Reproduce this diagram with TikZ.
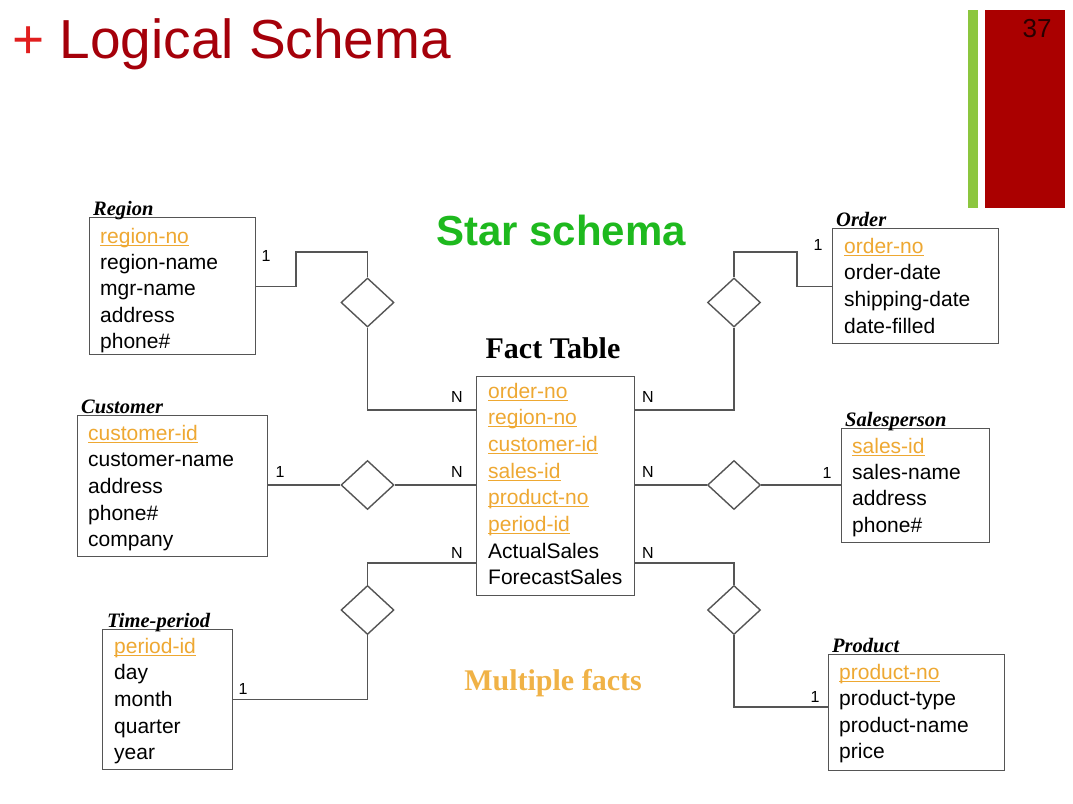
\documentclass[tikz,border=0pt]{standalone}
\usepackage{fontspec}
\setmainfont{Liberation Serif}
\setsansfont{Liberation Sans}
\usetikzlibrary{shapes.geometric}
\newcommand{\kul}[1]{\setbox0\hbox{#1}\rlap{\rule[-2.6pt]{\wd0}{1.0pt}}\box0}
\definecolor{keyc}{RGB}{238,168,50}
\definecolor{linec}{RGB}{85,85,85}
\definecolor{plusred}{RGB}{225,30,30}
\definecolor{titlered}{RGB}{165,0,10}
\definecolor{bargreen}{RGB}{140,198,63}
\definecolor{barred}{RGB}{170,0,0}
\definecolor{stargreen}{RGB}{30,185,30}
\definecolor{multic}{RGB}{240,178,70}
\begin{document}
\begin{tikzpicture}[x=1pt,y=-1pt,
  entbox/.style={draw=linec, line width=1.4pt, rectangle, inner sep=0pt, anchor=north west},
  attr/.style={anchor=base west, inner sep=0pt, font=\sffamily\fontsize{21}{25}\selectfont, text=black},
  keyattr/.style={attr, text=keyc},
  etitle/.style={anchor=base west, inner sep=0pt, font=\rmfamily\bfseries\itshape\fontsize{20.5}{24}\selectfont},
  rel/.style={diamond, draw=linec, line width=1.4pt, minimum width=53pt, minimum height=49pt, inner sep=0pt, fill=white},
  card/.style={font=\sffamily\fontsize{16}{18}\selectfont, inner sep=0pt},
  conn/.style={draw=linec, line width=1.4pt}]
\useasboundingbox (0,0) rectangle (1073,803);
\fill[white] (0,0) rectangle (1073,803);

% header
\node[anchor=base west, inner sep=0pt, font=\sffamily\fontsize{55}{60}\selectfont] (title) at (12,58)
  {\textcolor{plusred}{+} \textcolor{titlered}{Logical Schema}};
\fill[bargreen] (968,10) rectangle (978,208);
\fill[barred] (985,10) rectangle (1065,208);
\node[font=\sffamily\fontsize{26}{30}\selectfont, text={rgb,255:red,40;green,0;blue,0}, inner sep=0pt] (pagenum) at (1037,29) {37};

% headings
\node[font=\sffamily\bfseries\fontsize{42}{48}\selectfont, text=stargreen, inner sep=0pt] (star) at (561,230) {Star schema};
\node[font=\rmfamily\bfseries\fontsize{30}{34}\selectfont, inner sep=0pt] (facttitle) at (553,348) {Fact Table};
\node[font=\rmfamily\bfseries\fontsize{30}{34}\selectfont, text=multic, inner sep=0pt] (multi) at (553,683) {Multiple facts};

% Region
\node[entbox, minimum width=166pt, minimum height=137pt] (region) at (89,217) {};
\node[etitle] (regiont) at (93,215) {Region};
\node[keyattr] (r1) at (100,243) {\kul{region-no}};
\node[attr] (r2) at (100,269.4) {region-name};
\node[attr] (r3) at (100,295.8) {mgr-name};
\node[attr] (r4) at (100,322.2) {address};
\node[attr] (r5) at (100,348.6) {phone\#};

% Customer
\node[entbox, minimum width=190pt, minimum height=141pt] (cust) at (77,415) {};
\node[etitle] (custt) at (81,413) {Customer};
\node[keyattr] (c1) at (88,440) {\kul{customer-id}};
\node[attr] (c2) at (88,466.7) {customer-name};
\node[attr] (c3) at (88,493.4) {address};
\node[attr] (c4) at (88,520.1) {phone\#};
\node[attr] (c5) at (88,546.8) {company};

% Time-period
\node[entbox, minimum width=130pt, minimum height=140pt] (time) at (102,629) {};
\node[etitle] (timet) at (107,627) {Time-period};
\node[keyattr] (t1) at (114,653) {\kul{period-id}};
\node[attr] (t2) at (114,679.7) {day};
\node[attr] (t3) at (114,706.4) {month};
\node[attr] (t4) at (114,733.1) {quarter};
\node[attr] (t5) at (114,759.8) {year};

% Fact table
\node[entbox, minimum width=158pt, minimum height=219pt] (fact) at (476,376) {};
\node[keyattr] (f1) at (488,398) {\kul{order-no}};
\node[keyattr] (f2) at (488,424.7) {\kul{region-no}};
\node[keyattr] (f3) at (488,451.4) {\kul{customer-id}};
\node[keyattr] (f4) at (488,478.1) {\kul{sales-id}};
\node[keyattr] (f5) at (488,504.8) {\kul{product-no}};
\node[keyattr] (f6) at (488,531.5) {\kul{period-id}};
\node[attr] (f7) at (488,558.2) {ActualSales};
\node[attr] (f8) at (488,584.9) {ForecastSales};

% Order
\node[entbox, minimum width=166pt, minimum height=115pt] (order) at (832,228) {};
\node[etitle] (ordert) at (836,226) {Order};
\node[keyattr] (o1) at (844,253) {\kul{order-no}};
\node[attr] (o2) at (844,279.7) {order-date};
\node[attr] (o3) at (844,306.4) {shipping-date};
\node[attr] (o4) at (844,333.1) {date-filled};

% Salesperson
\node[entbox, minimum width=148pt, minimum height=114pt] (sales) at (841,428) {};
\node[etitle] (salest) at (845,426) {Salesperson};
\node[keyattr] (s1) at (852,453) {\kul{sales-id}};
\node[attr] (s2) at (852,479.4) {sales-name};
\node[attr] (s3) at (852,505.8) {address};
\node[attr] (s4) at (852,532.2) {phone\#};

% Product
\node[entbox, minimum width=176pt, minimum height=116pt] (prod) at (828,654) {};
\node[etitle] (prodt) at (832,652) {Product};
\node[keyattr] (p1) at (839,679) {\kul{product-no}};
\node[attr] (p2) at (839,705.5) {product-type};
\node[attr] (p3) at (839,732) {product-name};
\node[attr] (p4) at (839,758.5) {price};

% relationships
\node[rel] (d1) at (367.5,302.5) {};
\node[rel] (d2) at (734,302.5) {};
\node[rel] (d3) at (734,485) {};
\node[rel] (d4) at (367.5,485) {};
\node[rel] (d5) at (367.5,610) {};
\node[rel] (d6) at (734,610) {};

% helper coordinates
\coordinate (yA) at (0,410);
\coordinate (yB) at (0,485);
\coordinate (yC) at (0,563);
\coordinate (yP) at (0,707);
\coordinate (bendR) at (296,252);
\coordinate (bendO) at (797,252);

% connectors
\draw[conn] (region.east) -| (bendR) -| (d1.north);
\draw[conn] (d1.south) |- (fact.west |- yA);
\draw[conn] (order.west) -| (bendO) -| (d2.north);
\draw[conn] (d2.south) |- (fact.east |- yA);
\draw[conn] (cust.east |- yB) -- (d4.west);
\draw[conn] (d4.east) -- (fact.west |- yB);
\draw[conn] (fact.east |- yB) -- (d3.west);
\draw[conn] (d3.east) -- (sales.west |- yB);
\draw[conn] (time.east) -| (d5.south);
\draw[conn] (d5.north) |- (fact.west |- yC);
\draw[conn] (fact.east |- yC) -| (d6.north);
\draw[conn] (d6.south) |- (prod.west |- yP);

% cardinalities
\node[card] (n1) at (266,256) {1};
\node[card] (n2) at (457,397) {N};
\node[card] (n3) at (818,245) {1};
\node[card] (n4) at (648,397) {N};
\node[card] (n5) at (280,472) {1};
\node[card] (n6) at (457,472) {N};
\node[card] (n7) at (648,472) {N};
\node[card] (n8) at (827,473) {1};
\node[card] (n9) at (457,553) {N};
\node[card] (n10) at (243,689) {1};
\node[card] (n11) at (648,553) {N};
\node[card] (n12) at (815,697) {1};
\end{tikzpicture}
\end{document}
